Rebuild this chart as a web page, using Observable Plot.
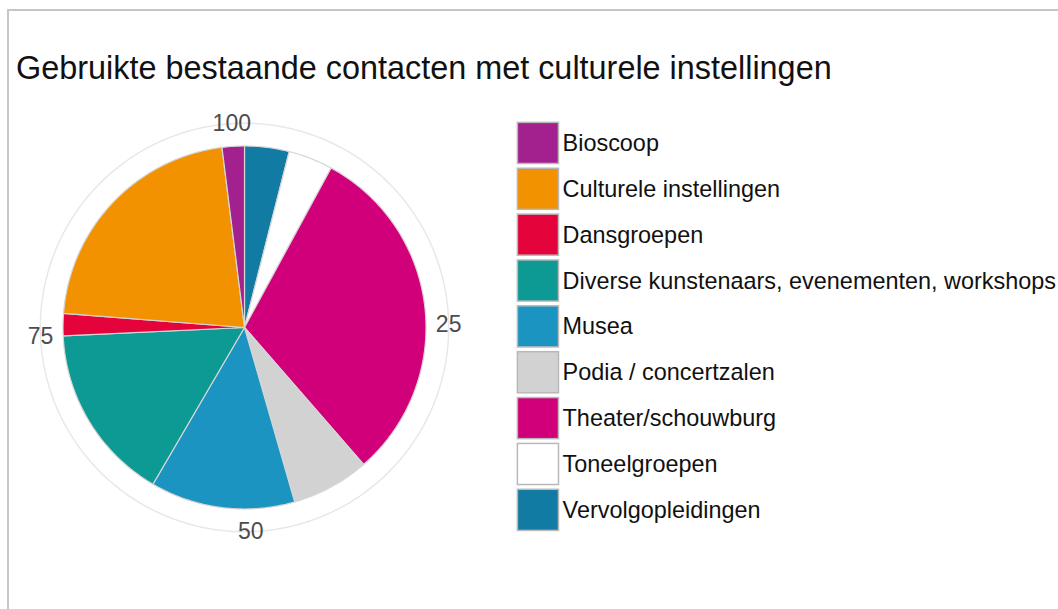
<!DOCTYPE html>
<html><head><meta charset="utf-8">
<script src="https://cdn.jsdelivr.net/npm/d3@7"></script>
<script src="https://cdn.jsdelivr.net/npm/@observablehq/plot@0.6"></script>
<style>
body{margin:0;width:1058px;height:609px;overflow:hidden;background:#fff;position:relative;font-family:"Liberation Sans",Arial,sans-serif;}
#frame{position:absolute;left:7px;top:9px;width:1200px;height:800px;border:2px solid #c6c6c6;}
#title{position:absolute;left:16px;top:51.9px;font-size:32.4px;line-height:32px;color:#111;white-space:nowrap;}
#pie{position:absolute;left:0;top:82.7px;}
#legend{position:absolute;left:514.6px;top:118.3px;}
</style></head><body>
<div id="frame"></div>
<div id="title">Gebruikte bestaande contacten met culturele instellingen</div>
<div id="pie"></div>
<div id="legend"></div>
<script>
// categories in legend order
const categories = ["Bioscoop","Culturele instellingen","Dansgroepen","Diverse kunstenaars, evenementen, workshops","Musea","Podia / concertzalen","Theater/schouwburg","Toneelgroepen","Vervolgopleidingen"];
// percentages (rounded, summing to 101)
const values = [2, 22, 2, 16, 13, 7, 31, 4, 4];
const colors = ["#A2218E","#F39200","#E4033B","#0E9A94","#1C94C2","#D2D2D2","#D1007A","#FFFFFF","#127BA3"];
// angular tick labels (the 0 label coincides with 100 and is hidden under it)
const ticks = [25, 50, 75, 100];

const total = d3.sum(values);
const L = 244 / 181.5;
const labelR = 1.125;
const ang = v => 2 * Math.PI * v / total;

// stacked from 0 in reverse legend order (ggplot stacking)
const rows = [];
let acc = 0;
[...categories].reverse().forEach(cat => {
  const v = values[categories.indexOf(cat)];
  const s = acc, e = acc + v;
  rows.push({cat, x: 0, y: 0});
  const n = Math.max(2, Math.ceil(v / 0.2));
  for (let k = 0; k <= n; k++) {
    const t = ang(s + (e - s) * k / n);
    rows.push({cat, x: Math.sin(t), y: Math.cos(t)});
  }
  rows.push({cat, x: 0, y: 0});
  acc = e;
});

const circle = d3.range(0, 361).map(a => ({x: labelR * Math.sin(a * Math.PI / 180), y: labelR * Math.cos(a * Math.PI / 180)}));

const pie = Plot.plot({
  width: 488, height: 488, margin: 0,
  style: {fontFamily: "Liberation Sans, Arial, sans-serif", background: "transparent"},
  x: {domain: [-L, L], axis: null},
  y: {domain: [-L, L], axis: null},
  color: {domain: categories, range: colors},
  marks: [
    Plot.line(circle, {x: "x", y: "y", stroke: "#e8e8e8", strokeWidth: 1.5}),
    Plot.line(rows, {x: "x", y: "y", z: "cat", fill: "cat", stroke: "#d6d6d6", strokeWidth: 1.2, curve: "linear"}),
    Plot.text(ticks, {x: d => labelR * Math.sin(ang(d)), y: d => labelR * Math.cos(ang(d)), text: d => String(d), fontSize: 23, fill: "#4d4d4d"})
  ]
});
document.getElementById("pie").append(pie);

const step = 46.4;
const legend = Plot.plot({
  width: 545, height: Math.ceil(step * categories.length) + 2, margin: 0,
  style: {fontFamily: "Liberation Sans, Arial, sans-serif", background: "transparent", overflow: "visible"},
  x: {type: "band", domain: ["k"], range: [0, step], padding: 0, axis: null},
  y: {type: "band", domain: categories, range: [0, step * categories.length], padding: 0, axis: null},
  color: {domain: categories, range: colors},
  marks: [
    Plot.cell(categories, {x: () => "k", y: d => d, fill: d => d, inset: 2.4, stroke: "#b8b8b8", strokeWidth: 1.5}),
    Plot.text(categories, {x: () => "k", y: d => d, text: d => d, textAnchor: "start", dx: 24.2, fontSize: 23.5, fill: "#111"})
  ]
});
document.getElementById("legend").append(legend);
</script>
</body></html>
